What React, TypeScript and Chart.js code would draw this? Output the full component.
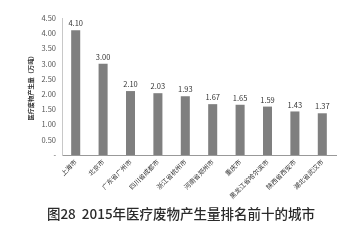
import React, { useEffect, useRef } from "react";
import { Chart, registerables } from "chart.js";

Chart.register(...registerables);

const categories = [
  "上海市",
  "北京市",
  "广东省广州市",
  "四川省成都市",
  "浙江省杭州市",
  "河南省郑州市",
  "重庆市",
  "黑龙江省哈尔滨市",
  "陕西省西安市",
  "湖北省武汉市",
];
const values = [4.1, 3.0, 2.1, 2.03, 1.93, 1.67, 1.65, 1.59, 1.43, 1.37];
const yAxisTitle = "医疗废物产生量（万吨）";
const chartTitle = "图28  2015年医疗废物产生量排名前十的城市";

const FONT = "'Noto Sans CJK SC', 'Noto Sans', sans-serif";

const valueLabels = {
  id: "valueLabels",
  afterDatasetsDraw(chart: any) {
    const ctx = chart.ctx;
    const meta = chart.getDatasetMeta(0);
    ctx.save();
    ctx.font = `7.5px ${FONT}`;
    ctx.fillStyle = "#333333";
    ctx.textAlign = "center";
    ctx.textBaseline = "bottom";
    meta.data.forEach((bar: any, i: number) => {
      ctx.fillText(values[i].toFixed(2), bar.x, bar.y - 3);
    });
    ctx.restore();
  },
};

const bottomTitle = {
  id: "bottomTitle",
  afterDraw(chart: any) {
    const ctx = chart.ctx;
    ctx.save();
    ctx.font = `500 13.5px ${FONT}`;
    ctx.fillStyle = "#2a2a2a";
    ctx.textAlign = "center";
    ctx.textBaseline = "middle";
    ctx.fillText(chartTitle, 181, 214);
    ctx.restore();
  },
};

export default function App() {
  const ref = useRef<HTMLCanvasElement>(null);
  useEffect(() => {
    if (!ref.current) return;
    const chart = new Chart(ref.current, {
      type: "bar",
      data: {
        labels: categories,
        datasets: [
          {
            data: values,
            backgroundColor: "#7f7f7f",
            barPercentage: 0.33,
            categoryPercentage: 1,
          },
        ],
      },
      options: {
        responsive: false,
        animation: false,
        layout: { padding: { top: 18, right: 22, left: 0, bottom: 39 } },
        plugins: {
          legend: { display: false },
          tooltip: { enabled: false },
          title: { display: false },
        },
        scales: {
          x: {
            grid: { display: false, drawTicks: false },
            border: { display: true, color: "#999999" },
            ticks: {
              color: "#333333",
              font: { family: FONT, size: 6.5 },
              maxRotation: 45,
              minRotation: 45,
              padding: 3,
              autoSkip: false,
            },
            afterFit: (scale: any) => {
              scale.height = 49;
            },
          },
          y: {
            min: 0,
            max: 4.5,
            grid: { display: false, drawTicks: false },
            border: { display: true, color: "#c8c8c8" },
            ticks: {
              stepSize: 0.5,
              color: "#555555",
              font: { family: FONT, size: 7.5 },
              padding: 6,
              callback: (v: any) => (Number(v) === 0 ? "-" : Number(v).toFixed(2)),
            },
            title: {
              display: true,
              text: yAxisTitle,
              color: "#333333",
              font: { family: FONT, size: 6.2, weight: "bold" },
              padding: { top: 27, bottom: 0 },
            },
            afterFit: (scale: any) => {
              scale.width = 62;
            },
          },
        },
      },
      plugins: [valueLabels, bottomTitle],
    });
    return () => chart.destroy();
  }, []);
  return (
    <div style={{ position: "fixed", left: 0, top: 0, width: 358, height: 243, background: "#fff" }}>
      <canvas ref={ref} width={358} height={243} />
    </div>
  );
}
